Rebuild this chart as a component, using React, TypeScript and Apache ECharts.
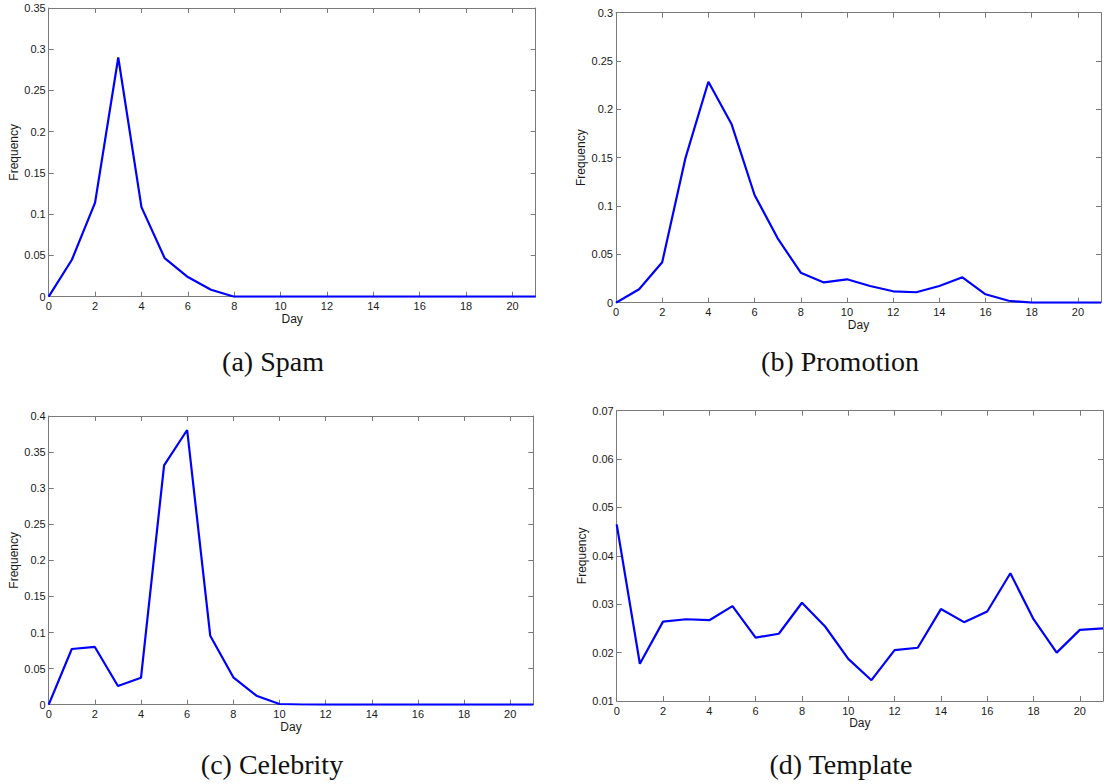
import React, { useEffect, useRef } from "react";
import * as echarts from "echarts";

// Days since posting, shared by every panel
const days = [0, 1, 2, 3, 4, 5, 6, 7, 8, 9, 10, 11, 12, 13, 14, 15, 16, 17, 18, 19, 20, 21];
const dayTicks = [0, 2, 4, 6, 8, 10, 12, 14, 16, 18, 20];

// Frequency per day for each message type
const spam = [0, 0.0448, 0.114, 0.29, 0.1086, 0.0468, 0.0238, 0.0085, 0, 0, 0, 0, 0, 0, 0, 0, 0, 0, 0, 0, 0, 0];
const promotion = [0, 0.0139, 0.0418, 0.149, 0.2286, 0.1849, 0.1114, 0.0666, 0.031, 0.021, 0.0242, 0.0173, 0.0118, 0.0108, 0.0173, 0.0263, 0.0087, 0.002, 0, 0, 0, 0];
const celebrity = [0, 0.0772, 0.08, 0.0259, 0.0374, 0.3317, 0.3806, 0.0956, 0.038, 0.0125, 0.001, 0.0003, 0, 0, 0, 0, 0, 0, 0, 0, 0, 0];
const template = [0.0465, 0.0177, 0.0264, 0.0269, 0.0267, 0.0296, 0.0231, 0.0239, 0.0303, 0.0254, 0.0187, 0.0143, 0.0205, 0.021, 0.029, 0.0263, 0.0285, 0.0364, 0.0269, 0.02, 0.0247, 0.025];

// Frequency tick values for each panel
const spamTicks = [0, 0.05, 0.1, 0.15, 0.2, 0.25, 0.3, 0.35];
const promotionTicks = [0, 0.05, 0.1, 0.15, 0.2, 0.25, 0.3];
const celebrityTicks = [0, 0.05, 0.1, 0.15, 0.2, 0.25, 0.3, 0.35, 0.4];
const templateTicks = [0.01, 0.02, 0.03, 0.04, 0.05, 0.06, 0.07];

const captions = ["(a) Spam", "(b) Promotion", "(c) Celebrity", "(d) Template"];

const panels = [
  { values: spam, yTicks: spamTicks, rect: { left: 48.7, top: 8, width: 487, height: 288.7 }, cap: { x: 273, y: 361 } },
  { values: promotion, yTicks: promotionTicks, rect: { left: 616, top: 12.7, width: 485, height: 290 }, cap: { x: 840, y: 361 } },
  { values: celebrity, yTicks: celebrityTicks, rect: { left: 48.7, top: 416, width: 484.6, height: 288.7 }, cap: { x: 272, y: 764 } },
  { values: template, yTicks: templateTicks, rect: { left: 616.7, top: 410.7, width: 486.3, height: 290.3 }, cap: { x: 841, y: 764 } },
];

const frameColor = "#7a7a7a";
const textColor = "#1a1a1a";
const sans = "Liberation Sans, Arial, sans-serif";

function buildOption() {
  const grid: any[] = [];
  const xAxis: any[] = [];
  const yAxis: any[] = [];
  const series: any[] = [];
  const graphic: any[] = [];

  panels.forEach((p, i) => {
    grid.push({ ...p.rect, containLabel: false });
    const yMin = p.yTicks[0];
    const yMax = p.yTicks[p.yTicks.length - 1];

    const baseX = {
      type: "value",
      gridIndex: i,
      min: days[0],
      max: days[days.length - 1],
      axisLine: { show: true, onZero: false, lineStyle: { color: frameColor, width: 1 } },
      axisTick: { show: true, inside: true, length: 5, customValues: dayTicks, lineStyle: { color: frameColor } },
      splitLine: { show: false },
    };
    xAxis.push({
      ...baseX,
      position: "bottom",
      name: "Day",
      nameLocation: "middle",
      nameGap: 15,
      nameTextStyle: { fontFamily: sans, fontSize: 12, color: textColor },
      axisLabel: { show: true, customValues: dayTicks, margin: 4, fontFamily: sans, fontSize: 11, color: textColor },
    });
    xAxis.push({ ...baseX, position: "top", axisLabel: { show: false } });

    const baseY = {
      type: "value",
      gridIndex: i,
      min: yMin,
      max: yMax,
      axisLine: { show: true, onZero: false, lineStyle: { color: frameColor, width: 1 } },
      axisTick: { show: true, inside: true, length: 5, customValues: p.yTicks, lineStyle: { color: frameColor } },
      splitLine: { show: false },
    };
    yAxis.push({
      ...baseY,
      position: "left",
      name: "Frequency",
      nameLocation: "middle",
      nameGap: 29,
      nameRotate: 90,
      nameTextStyle: { fontFamily: sans, fontSize: 12, color: textColor },
      axisLabel: { show: true, customValues: p.yTicks, margin: 3, fontFamily: sans, fontSize: 11, color: textColor },
    });
    yAxis.push({ ...baseY, position: "right", axisLabel: { show: false } });

    series.push({
      type: "line",
      xAxisIndex: 2 * i,
      yAxisIndex: 2 * i,
      data: days.map((d, k) => [d, p.values[k]]),
      showSymbol: false,
      symbol: "none",
      clip: true,
      lineStyle: { color: "#0000ff", width: 2.2 },
      z: 5,
    });

    graphic.push({
      type: "text",
      x: p.cap.x,
      y: p.cap.y,
      style: {
        text: captions[i],
        fontFamily: "Liberation Serif, Times New Roman, serif",
        fontSize: 28,
        fill: "#111111",
        textAlign: "center",
        textVerticalAlign: "middle",
      },
    });
  });

  return {
    animation: false,
    backgroundColor: "#ffffff",
    grid,
    xAxis,
    yAxis,
    series,
    graphic,
  };
}

export default function App() {
  const ref = useRef<HTMLDivElement>(null);

  useEffect(() => {
    if (!ref.current) return;
    const chart = echarts.init(ref.current, null, { renderer: "svg" });
    chart.setOption(buildOption());
    return () => chart.dispose();
  }, []);

  return (
    <div
      ref={ref}
      style={{ position: "fixed", left: 0, top: 0, width: 1104, height: 784, background: "#ffffff" }}
    />
  );
}
